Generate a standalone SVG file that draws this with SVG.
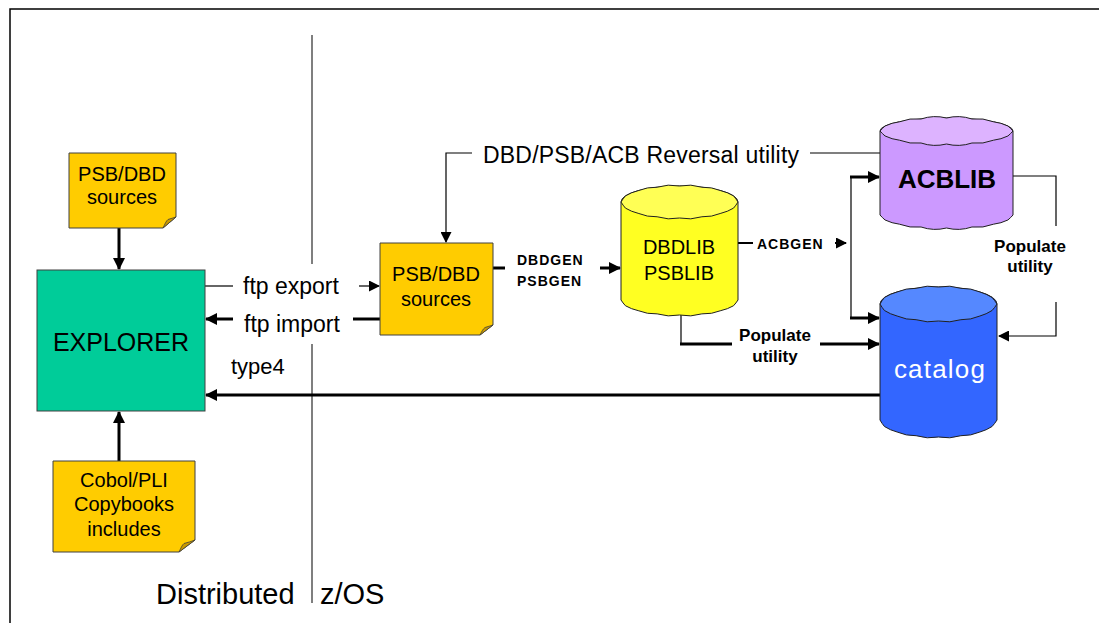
<svg xmlns="http://www.w3.org/2000/svg" width="1099" height="623" viewBox="0 0 1099 623">
  <style>
    text { font-family: "Liberation Sans", Arial, sans-serif; fill: #000; }
    .note { fill: #FFCC00; stroke: #404040; stroke-width: 1; }
    .fold { fill: #C99A00; stroke: #404040; stroke-width: 0.8; }
    .cyl { stroke: #202020; stroke-width: 1; }
    .thin { fill: none; stroke: #000; stroke-width: 1.2; }
    .thick { fill: none; stroke: #000; stroke-width: 3; }
    .div { fill: none; stroke: #555; stroke-width: 1.5; }
    .note-t { font-size: 20px; text-anchor: middle; }
    .gen { font-size: 14px; font-weight: bold; letter-spacing: 1px; }
    .pop { font-size: 17px; font-weight: bold; text-anchor: middle; }
    .lbl { font-size: 23px; }
  </style>
  <defs>
    <marker id="ah" markerUnits="userSpaceOnUse" markerWidth="12" markerHeight="12" refX="11" refY="6" orient="auto">
      <path d="M0,0 L12,6 L0,12 Z" fill="#000"/>
    </marker>
    <marker id="ahs" markerUnits="userSpaceOnUse" markerWidth="11" markerHeight="11" refX="10" refY="5.5" orient="auto">
      <path d="M0,0 L11,5.5 L0,11 Z" fill="#000"/>
    </marker>
  </defs>

  <rect width="1099" height="623" fill="#fff"/>
  <!-- frame -->
  <path d="M10,623 V9 H1099" fill="none" stroke="#000" stroke-width="1.5"/>

  <!-- divider between distributed and z/OS sides -->
  <g id="divider">
    <path class="div" d="M312,35 V264 M312,344 V603"/>
    <text x="156" y="604" font-size="29">Distributed</text>
    <text x="320" y="604" font-size="29">z/OS</text>
  </g>

  <!-- connectors -->
  <g id="connectors">
    <path class="thick" d="M119,228 V269" marker-end="url(#ah)"/>
    <path class="thick" d="M119,461 V412" marker-end="url(#ah)"/>
    <path class="thin" d="M205,286 H233"/>
    <path class="thin" d="M359,286 H379" marker-end="url(#ahs)"/>
    <path class="thick" d="M380,319 H353"/>
    <path class="thick" d="M233,319 H206" marker-end="url(#ah)"/>
    <path class="thick" d="M880,395 H206" marker-end="url(#ah)"/>
    <path class="thin" d="M880,153 H810"/>
    <path class="thin" d="M472,153 H446 V242" marker-end="url(#ahs)"/>
    <path class="thick" d="M493,268 H505"/>
    <path class="thick" d="M600,268 H620" marker-end="url(#ah)"/>
    <path fill="none" stroke="#000" stroke-width="2" d="M738,243 H753"/>
    <path fill="none" stroke="#000" stroke-width="2" d="M835,243 H846" marker-end="url(#ahs)"/>
    <path class="thin" d="M851,177 V318"/>
    <path class="thick" d="M850,177 H879" marker-end="url(#ah)"/>
    <path class="thick" d="M850,318 H879" marker-end="url(#ah)"/>
    <path class="thin" d="M681,315 V344"/>
    <path class="thick" d="M680,344 H732"/>
    <path class="thick" d="M820,344 H879" marker-end="url(#ah)"/>
    <path class="thin" d="M1013,176 H1056 V226"/>
    <path class="thin" d="M1056,302 V336 H999" marker-end="url(#ahs)"/>

    <text class="lbl" x="243" y="294">ftp export</text>
    <text class="lbl" x="244" y="332">ftp import</text>
    <text font-size="22" x="231" y="374">type4</text>
    <text class="lbl" x="483" y="163" letter-spacing="0.2">DBD/PSB/ACB Reversal utility</text>
    <text class="gen" x="517" y="265">DBDGEN</text>
    <text class="gen" x="517" y="286">PSBGEN</text>
    <text class="gen" x="757" y="249" letter-spacing="1.6">ACBGEN</text>
    <text class="pop" x="775" y="341">Populate</text>
    <text class="pop" x="775" y="362">utility</text>
    <text class="pop" x="1030" y="252">Populate</text>
    <text class="pop" x="1030" y="272">utility</text>
  </g>

  <!-- source notes -->
  <g id="psb-dbd-local">
    <path class="note" d="M69,153 H176 V217 L163,228 H69 Z"/>
    <path class="fold" d="M176,217 L163,228 C165,224 166,221 168,219.5 C171,218.5 173,218 176,217 Z"/>
    <text class="note-t" x="122" y="181">PSB/DBD</text>
    <text class="note-t" x="122" y="204">sources</text>
  </g>

  <g id="explorer">
    <rect x="37" y="270" width="168" height="141" fill="#00CC99" stroke="#404040" stroke-width="1"/>
    <text x="121" y="351" font-size="25" text-anchor="middle">EXPLORER</text>
  </g>

  <g id="copybooks">
    <path class="note" d="M53,461 H195 V540 L179,552 H53 Z"/>
    <path class="fold" d="M195,540 L179,552 C181,548 182,545 184,543.5 C188,542.5 191,541.5 195,540 Z"/>
    <text class="note-t" x="124" y="487">Cobol/PLI</text>
    <text class="note-t" x="124" y="511">Copybooks</text>
    <text class="note-t" x="124" y="536">includes</text>
  </g>

  <g id="psb-dbd-host">
    <path class="note" d="M380,243 H493 V325 L480,335 H380 Z"/>
    <path class="fold" d="M493,325 L480,335 C482,331 483,329 485,327.5 C488,326.5 490,326 493,325 Z"/>
    <text class="note-t" x="436" y="281">PSB/DBD</text>
    <text class="note-t" x="436" y="306">sources</text>
  </g>

  <!-- DBDLIB / PSBLIB cylinder -->
  <g id="dbdlib">
    <path class="cyl" fill="#FFFF22" d="M621,202 V300
      A45,45 0 0 0 625.45,305.74 A45,45 0 0 0 638.13,310.61 A45,45 0 0 0 657.11,313.86 A45,45 0 0 0 679.5,315
      A45,45 0 0 0 701.89,313.86 A45,45 0 0 0 720.87,310.61 A45,45 0 0 0 733.55,305.74 A45,45 0 0 0 738,300
      V202 A58.5,16 0 0 0 621,202 Z"/>
    <path class="cyl" fill="#FFFF55" d="M738,202
      A45,45 0 0 1 733.55,208.12 A45,45 0 0 1 720.87,213.31 A45,45 0 0 1 701.89,216.78 A45,45 0 0 1 679.5,218
      A45,45 0 0 1 657.11,216.78 A45,45 0 0 1 638.13,213.31 A45,45 0 0 1 625.45,208.12 A45,45 0 0 1 621,202
      A45,45 0 0 1 625.45,195.88 A45,45 0 0 1 638.13,190.69 A45,45 0 0 1 657.11,187.22 A45,45 0 0 1 679.5,186
      A45,45 0 0 1 701.89,187.22 A45,45 0 0 1 720.87,190.69 A45,45 0 0 1 733.55,195.88 A45,45 0 0 1 738,202 Z"/>
    <text class="note-t" x="679" y="254">DBDLIB</text>
    <text class="note-t" x="679" y="280">PSBLIB</text>
  </g>

  <!-- ACBLIB cylinder -->
  <g id="acblib">
    <path class="cyl" fill="#CC99FF" d="M880,131 V215
      A45,45 0 0 0 885.06,219.98 A45,45 0 0 0 899.48,224.19 A45,45 0 0 0 921.05,227.01 A45,45 0 0 0 946.5,228
      A45,45 0 0 0 971.95,227.01 A45,45 0 0 0 993.52,224.19 A45,45 0 0 0 1007.94,219.98 A45,45 0 0 0 1013,215
      V131 A66.5,13 0 0 0 880,131 Z"/>
    <path class="cyl" fill="#DDB3FF" d="M1013,131
      A45,45 0 0 1 1007.94,135.98 A45,45 0 0 1 993.52,140.19 A45,45 0 0 1 971.95,143.01 A45,45 0 0 1 946.5,144
      A45,45 0 0 1 921.05,143.01 A45,45 0 0 1 899.48,140.19 A45,45 0 0 1 885.06,135.98 A45,45 0 0 1 880,131
      A45,45 0 0 1 885.06,126.02 A45,45 0 0 1 899.48,121.81 A45,45 0 0 1 921.05,118.99 A45,45 0 0 1 946.5,118
      A45,45 0 0 1 971.95,118.99 A45,45 0 0 1 993.52,121.81 A45,45 0 0 1 1007.94,126.02 A45,45 0 0 1 1013,131 Z"/>
    <text x="947" y="188" font-size="26" font-weight="bold" text-anchor="middle">ACBLIB</text>
  </g>

  <!-- catalog cylinder -->
  <g id="catalog">
    <path class="cyl" fill="#3366FF" d="M880,304 V420
      A45,45 0 0 0 884.45,426.51 A45,45 0 0 0 897.13,432.02 A45,45 0 0 0 916.11,435.71 A45,45 0 0 0 938.5,437
      A45,45 0 0 0 960.89,435.71 A45,45 0 0 0 979.87,432.02 A45,45 0 0 0 992.05,426.51 A45,45 0 0 0 997,420
      V304 A58.5,17 0 0 0 880,304 Z"/>
    <path class="cyl" fill="#5588FF" d="M997,304
      A45,45 0 0 1 992.05,310.51 A45,45 0 0 1 979.87,316.02 A45,45 0 0 1 960.89,319.71 A45,45 0 0 1 938.5,321
      A45,45 0 0 1 916.11,319.71 A45,45 0 0 1 897.13,316.02 A45,45 0 0 1 884.45,310.51 A45,45 0 0 1 880,304
      A45,45 0 0 1 884.45,297.49 A45,45 0 0 1 897.13,291.98 A45,45 0 0 1 916.11,288.29 A45,45 0 0 1 938.5,287
      A45,45 0 0 1 960.89,288.29 A45,45 0 0 1 979.87,291.98 A45,45 0 0 1 992.05,297.49 A45,45 0 0 1 997,304 Z"/>
    <text x="940" y="378" font-size="26" letter-spacing="1.2" text-anchor="middle" style="fill:#fff">catalog</text>
  </g>
</svg>
